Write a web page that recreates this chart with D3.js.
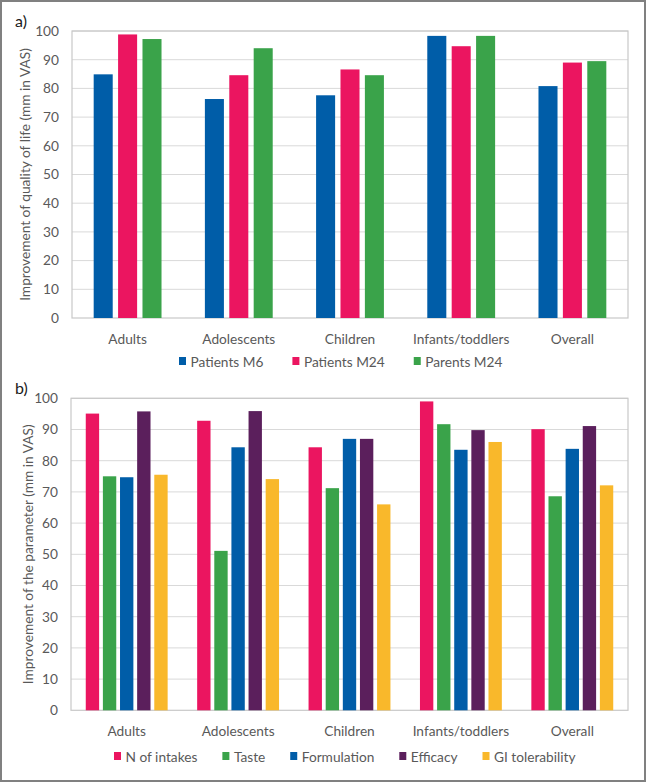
<!DOCTYPE html>
<html>
<head>
<meta charset="utf-8">
<script src="https://cdn.jsdelivr.net/npm/d3@7"></script>
<style>
  html, body { margin: 0; padding: 0; background: #fff; }
  svg { display: block; }
  text { font-family: Lato, "Open Sans", sans-serif; }
</style>
</head>
<body>
<svg id="chart" width="649" height="784"></svg>
<script>
// ---------------- DATA ----------------
const categories = ["Adults", "Adolescents", "Children", "Infants/toddlers", "Overall"];
const yTicks = [0, 10, 20, 30, 40, 50, 60, 70, 80, 90, 100];

// Panel a
const seriesA = ["Patients M6", "Patients M24", "Parents M24"];
const patientsM6  = [84.9, 76.3, 77.6, 98.3, 80.8];
const patientsM24 = [98.8, 84.6, 86.6, 94.7, 89.0];
const parentsM24  = [97.2, 94.0, 84.6, 98.3, 89.5];
const yTitleA = "Improvement of quality of life (mm in VAS)";

// Panel b
const seriesB = ["N of intakes", "Taste", "Formulation", "Efficacy", "GI tolerability"];
const nIntakes     = [95.1, 92.8, 84.3, 99.0, 90.1];
const taste        = [75.0, 51.1, 71.2, 91.7, 68.6];
const formulation  = [74.7, 84.3, 87.0, 83.5, 83.8];
const efficacy     = [95.8, 95.9, 87.0, 89.8, 91.1];
const giTolerance  = [75.5, 74.1, 66.0, 86.0, 72.1];
const yTitleB = "Improvement of the parameter (mm in VAS)";

// Colours
const cBlue = "#005DA8", cPink = "#EB1560", cGreen = "#3AA34A", cPurple = "#5B1F5C", cYellow = "#F9B82B";
const FS = "13.7px";

// ---------------- DRAW ----------------
const svg = d3.select("#chart");
svg.append("rect").attr("width", 649).attr("height", 784).attr("fill", "#fff");
svg.append("rect").attr("x", 1).attr("y", 1).attr("width", 644).attr("height", 780)
  .attr("fill", "none").attr("stroke", "#808080").attr("stroke-width", 2);

function panel(opts) {
  const { left, right, top, bottom, seriesNames, values, colors, groupFrac, innerPad,
          yTitle, yTitleX, label, labelY, xLabelY, legendY, legendX, legendGap } = opts;
  const g = svg.append("g");
  const x0 = d3.scaleBand().domain(categories).range([left, right]).padding(0);
  const y = d3.scaleLinear().domain([0, 100]).range([bottom, top]);
  const groupW = x0.bandwidth() * groupFrac;
  const x1 = d3.scaleBand().domain(seriesNames).range([0, groupW]).paddingInner(innerPad).paddingOuter(0);

  // gridlines
  g.append("g").selectAll("line").data(yTicks.filter(t => t > 0)).join("line")
    .attr("x1", left).attr("x2", right)
    .attr("y1", d => y(d)).attr("y2", d => y(d))
    .attr("stroke", "#d9d9d9").attr("stroke-width", 1);

  // plot border
  g.append("rect").attr("x", left).attr("y", top).attr("width", right - left).attr("height", bottom - top)
    .attr("fill", "none").attr("stroke", "#c8c8c8").attr("stroke-width", 1.2);

  // y axis labels
  const yAxis = d3.axisLeft(y).tickValues(yTicks).tickSize(0).tickPadding(13);
  const ya = g.append("g").attr("transform", `translate(${left},0)`).call(yAxis);
  ya.select(".domain").remove();
  ya.selectAll("text").attr("fill", "#595959").style("font-size", FS)
    .style("font-family", "Lato, 'Open Sans', sans-serif");

  // x axis labels
  const xAxis = d3.axisBottom(x0).tickSize(0).tickPadding(0);
  const xa = g.append("g").attr("transform", `translate(0,${xLabelY})`).call(xAxis);
  xa.select(".domain").remove();
  xa.selectAll("text").attr("fill", "#595959").attr("dy", "0").attr("dominant-baseline", "central")
    .style("font-size", FS).style("font-family", "Lato, 'Open Sans', sans-serif");

  // bars
  const rows = categories.map((c, i) => ({ c, vals: seriesNames.map((s, j) => ({ s, j, v: values[j][i] })) }));
  g.append("g").selectAll("g").data(rows).join("g")
    .attr("transform", d => `translate(${x0(d.c) + (x0.bandwidth() - groupW) / 2},0)`)
    .selectAll("rect").data(d => d.vals).join("rect")
    .attr("x", d => x1(d.s)).attr("width", x1.bandwidth())
    .attr("y", d => y(d.v)).attr("height", d => y(0) - y(d.v))
    .attr("fill", d => colors[d.j]);

  // y title
  g.append("text").attr("transform", `translate(${yTitleX},${(top + bottom) / 2}) rotate(-90)`)
    .attr("text-anchor", "middle").attr("dominant-baseline", "middle")
    .attr("fill", "#595959").style("font-size", FS).text(yTitle);

  // panel label
  g.append("text").attr("x", 15).attr("y", labelY).attr("fill", "#1a1a1a")
    .style("font-size", "16px").text(label);

  // legend
  let lx = legendX;
  seriesNames.forEach((s, j) => {
    g.append("rect").attr("x", lx).attr("y", legendY - 4).attr("width", 7).attr("height", 8).attr("fill", colors[j]);
    const t = g.append("text").attr("x", lx + 11.5).attr("y", legendY).attr("dominant-baseline", "central")
      .attr("fill", "#595959").style("font-size", FS).text(s);
    lx = lx + 11.5 + t.node().getComputedTextLength() + legendGap;
  });
}

panel({
  left: 72, right: 628, top: 31, bottom: 318,
  seriesNames: seriesA, values: [patientsM6, patientsM24, parentsM24],
  colors: [cBlue, cPink, cGreen], groupFrac: 0.61, innerPad: 0.22,
  yTitle: yTitleA, yTitleX: 27, label: "a)", labelY: 27,
  xLabelY: 338, legendY: 361, legendX: 179, legendGap: 29
});

panel({
  left: 71, right: 628, top: 398.3, bottom: 710.3,
  seriesNames: seriesB, values: [nIntakes, taste, formulation, efficacy, giTolerance],
  colors: [cPink, cGreen, cBlue, cPurple, cYellow], groupFrac: 0.735, innerPad: 0.22,
  yTitle: yTitleB, yTitleX: 30, label: "b)", labelY: 394,
  xLabelY: 730, legendY: 756, legendX: 114, legendGap: 25
});
</script>
</body>
</html>
